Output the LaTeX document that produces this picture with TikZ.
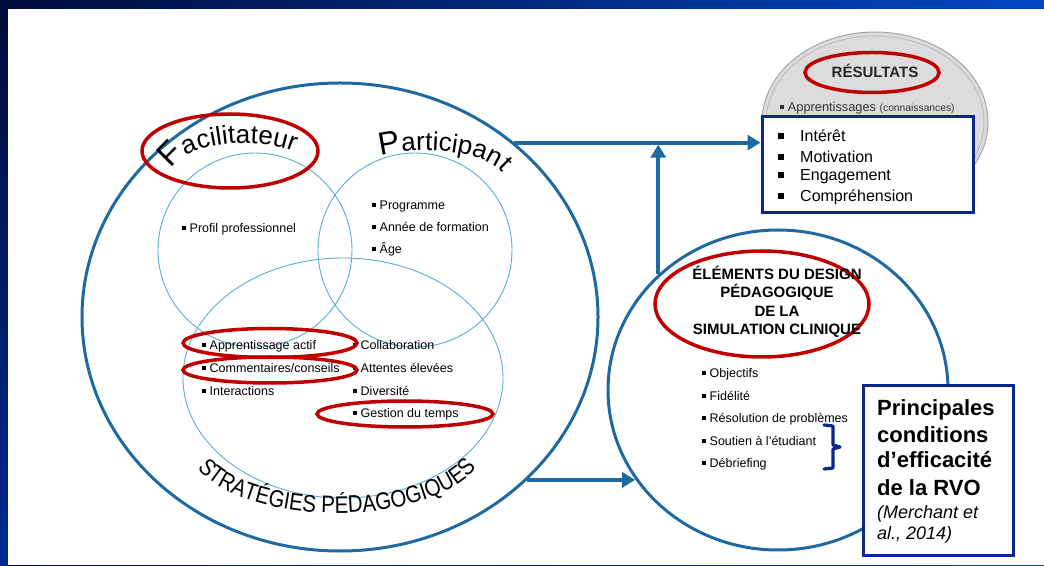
\documentclass[tikz,border=0pt]{standalone}
\usepackage{fontspec}
\setmainfont{Liberation Sans}
\newfontfamily\condfont[FakeStretch=0.85]{Liberation Sans}
\usetikzlibrary{shapes.geometric,arrows.meta,decorations.text}
\definecolor{circblue}{HTML}{1E6AA0}
\definecolor{venn}{HTML}{5AAFD0}
\definecolor{redo}{HTML}{C00000}
\definecolor{navy}{HTML}{0A288C}
\definecolor{bgdark}{HTML}{000C3A}
\definecolor{bgblue}{HTML}{0046C4}
\definecolor{bgleft}{HTML}{002A92}
\definecolor{greyfill}{HTML}{DCDCDC}
\newcommand\bul{\rule[0.18em]{0.3em}{0.3em}\hspace{0.3em}}
\newcommand\bigbul{\makebox[22pt][l]{\rule[0.2em]{0.36em}{0.36em}}}
\begin{document}
\begin{tikzpicture}[x=1pt,y=1pt,
  bigc/.style={ellipse, draw=circblue, line width=3pt, inner sep=0pt},
  vennc/.style={ellipse, draw=venn, line width=0.9pt, inner sep=0pt},
  redring/.style={ellipse, draw=redo, line width=3.5pt, inner sep=0pt},
  item/.style={anchor=base west, inner sep=0pt, font=\fontsize{12.5}{15}\selectfont},
  bigitem/.style={anchor=base west, inner sep=0pt, font=\fontsize{16}{19}\selectfont},
  boldline/.style={anchor=base west, inner sep=0pt, font=\bfseries\fontsize{22}{26}\selectfont},
  itline/.style={anchor=base west, inner sep=0pt, font=\itshape\fontsize{18}{21}\selectfont},
  arr/.style={draw=circblue, line width=4pt, -{Triangle[length=13pt,width=15pt]}},
  bluebox/.style={draw=navy, line width=3pt, fill=white, inner sep=0pt},
]
\useasboundingbox (0,0) rectangle (1044,565);
% background
\shade[left color=bgdark, right color=bgblue] (0,0) rectangle (1044,565);
\shade[top color=bgdark, bottom color=bgleft] (0,0) rectangle (8,565);
\fill[white] (8,0) rectangle (1044,556);

% results grey circle
\node[ellipse, fill=greyfill, draw=gray!70, line width=1pt, minimum width=226pt, minimum height=180pt, inner sep=0pt] (resc) at (875,443) {};
\draw[gray!50, line width=1pt] (resc.center) ellipse [x radius=109, y radius=86];
\node[redring, minimum width=134pt, minimum height=40pt] (resr) at (872,492.5) {};
\node[font=\bfseries\fontsize{15}{18}\selectfont, anchor=base, inner sep=0pt, text=black!85] (rest) at (875,487.6) {RÉSULTATS};
\node[anchor=base west, inner sep=0pt, text=black!80, font=\fontsize{12.8}{15}\selectfont] (appr0) at (780,453.5) {\bul Apprentissages {\fontsize{10.3}{12}\selectfont (connaissances)}};

% big circles
\node[bigc, minimum width=516pt, minimum height=468pt] (big) at (340,248) {};
\node[bigc, minimum width=340pt, minimum height=320pt] (elem) at (778,175) {};

% venn circles
\node[vennc, minimum width=194pt, minimum height=194pt] (fac) at (255,315) {};
\node[vennc, minimum width=194pt, minimum height=194pt] (part) at (415,315) {};
\node[vennc, minimum width=320pt, minimum height=240pt] (strat) at (343,187) {};

% curved titles
\path[decorate, decoration={text along path, text align=left,
  text={|\fontsize{33}{33}\selectfont|F|\fontsize{26}{26}\selectfont|acilitateur}}]
  (244,391) ++(173:72 and 31) arc[start angle=173, end angle=-20, x radius=72, y radius=31];
\path[decorate, decoration={text along path, text align=left,
  text={|\fontsize{32}{32}\selectfont|P|\fontsize{26}{26}\selectfont|articipant}}]
  (425,384.3) ++(123.4:80 and 30) arc[start angle=123.4, end angle=-20, x radius=80, y radius=30];
\path[decorate, decoration={text along path, text align=center,
  text={|\condfont\fontsize{24}{24}\selectfont|STRATÉGIES PÉDAGOGIQUES}}]
  (337,118) ++(188:147 and 66) arc[start angle=188, end angle=352, x radius=147, y radius=66];

\node[redring, minimum width=176pt, minimum height=74pt] (facr) at (230,414) {};

% venn texts
\node[item] (f1) at (182,332.5) {\bul Profil professionnel};
\node[item] (p1) at (372,355.5) {\bul Programme};
\node[item] (p2) at (372,333.5) {\bul Année de formation};
\node[item] (p3) at (372,311.5) {\bul Âge};
\node[item] (s1) at (202,215.5) {\bul Apprentissage actif};
\node[item] (s2) at (202,192.5) {\bul Commentaires/conseils};
\node[item] (s3) at (202,169.5) {\bul Interactions};
\node[item] (s4) at (353,215.5) {\bul Collaboration};
\node[item] (s5) at (353,192.5) {\bul Attentes élevées};
\node[item] (s6) at (353,169.5) {\bul Diversité};
\node[item] (s7) at (353,147.5) {\bul Gestion du temps};
\node[redring, minimum width=174pt, minimum height=29pt] (r1) at (270,222) {};
\node[redring, minimum width=174pt, minimum height=26pt] (r2) at (270,195) {};
\node[redring, minimum width=176pt, minimum height=26pt] (r3) at (405,151) {};

% elements circle texts
\node[redring, minimum width=214pt, minimum height=106pt] (elr) at (762,261) {};
\node[font=\bfseries\fontsize{15}{18.5}\selectfont, align=center, inner sep=0pt] (elt) at (777,263)
  {ÉLÉMENTS DU DESIGN\\PÉDAGOGIQUE\\DE LA\\SIMULATION CLINIQUE};
\node[item] (e1) at (702,187.5) {\bul Objectifs};
\node[item] (e2) at (702,164.5) {\bul Fidélité};
\node[item] (e3) at (702,142.5) {\bul Résolution de problèmes};
\node[item] (e4) at (702,119.5) {\bul Soutien à l’étudiant};
\node[item] (e5) at (702,97.5) {\bul Débriefing};
\draw[navy, line width=3.2pt, line join=round, line cap=round]
  (824,140) -- (833,139) -- (833,120) -- (840,118) -- (833,116) -- (833,97) -- (824,96);

% arrows
\node[bluebox, minimum width=211pt, minimum height=96pt] (res) at (867.5,400) {};
\draw[arr] (big.45) -- (big.45 -| res.west);
\draw[arr, shorten >=2pt] (elem.136) -- (elem.136 |- big.45);
\draw[arr] (big.-41) -- (big.-41 -| elem.212);

% results box
\node[bluebox, minimum width=211pt, minimum height=96pt] (res2) at (867.5,400) {};
\node[bigitem] (i1) at (778,423.2) {\bigbul Intérêt};
\node[bigitem] (i2) at (778,402.2) {\bigbul Motivation};
\node[bigitem] (i3) at (778,384.2) {\bigbul Engagement};
\node[bigitem] (i4) at (778,363.2) {\bigbul Compréhension};

% conditions box
\node[bluebox, minimum width=150pt, minimum height=169pt] (cond) at (938,94.5) {};
\node[boldline] (c1) at (877,149) {Principales};
\node[boldline] (c2) at (877,122) {conditions};
\node[boldline] (c3) at (877,97) {d’efficacité};
\node[boldline] (c4) at (877,70) {de la RVO};
\node[itline] (c5) at (877,47) {(Merchant et};
\node[itline] (c6) at (877,26) {al., 2014)};
\end{tikzpicture}
\end{document}
